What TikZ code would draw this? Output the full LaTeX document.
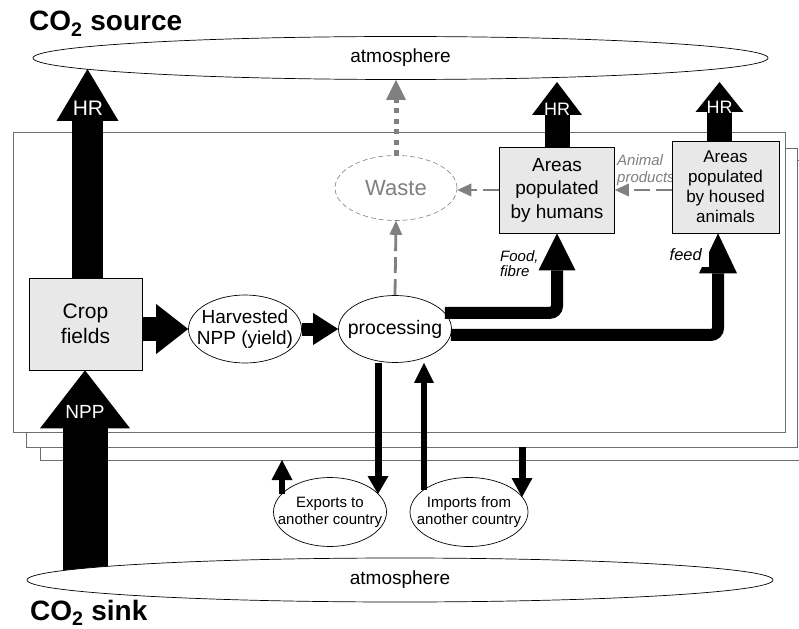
\documentclass[tikz,border=0pt]{standalone}
\usepackage{fontspec}
\setmainfont{Liberation Sans}
\usetikzlibrary{arrows.meta,shapes.geometric,calc}
\definecolor{boxgray}{HTML}{E8E8E8}
\definecolor{framegray}{HTML}{6E6E6E}
\definecolor{flowgray}{HTML}{808080}
\newcommand\fsz[2]{\fontsize{#1}{#2}\selectfont}
\tikzset{
  frame/.style={draw=framegray, line width=0.9pt, fill=white},
  ell/.style={ellipse, draw, fill=white, inner sep=0pt, line width=0.7pt},
  boxnode/.style={rectangle, draw, fill=boxgray, inner sep=0pt, align=center, line width=0.7pt},
  txt/.style={inner sep=0pt, align=center},
  fat/.style n args={3}{line width=#1, -{Triangle[width=#2,length=#3,line width=0pt]}},
  fatr/.style n args={3}{line width=#1, rounded corners=7pt, -{Triangle[width=#2,length=#3,line width=0pt]}},
  gdash/.style={draw=flowgray, line width=2.8pt, dash pattern=on 16pt off 6pt, -{Triangle[width=13pt,length=14pt,line width=0pt]}},
  gdot/.style={draw=flowgray, line width=5pt, dash pattern=on 5pt off 5.5pt, -{Triangle[width=20pt,length=20pt,line width=0pt]}},
  hrlab/.style={text=white, inner sep=0pt},
}
\begin{document}
\begin{tikzpicture}[x=1pt,y=-1pt]
\useasboundingbox (0,0) rectangle (799,628);
% stacked frames
\draw[frame] (40,160) rectangle (815,460);
\draw[frame] (26,148) rectangle (797,447);
\draw[frame] (13,132) rectangle (785,432);

% titles
\node[anchor=base west, inner sep=0pt, font=\bfseries\fsz{28}{32}] (src) at (29,31) {CO\textsubscript{2} source};
\node[anchor=base west, inner sep=0pt, font=\bfseries\fsz{28}{32}] (snk) at (30,620) {CO\textsubscript{2} sink};

% top atmosphere
\node[ell, minimum width=735pt, minimum height=43pt] (topatm) at (400.5,58) {};
\node[txt, font=\fsz{19}{22}] (topatmtxt) at (topatm) {atmosphere};

% nodes
\node[boxnode, minimum width=113pt, minimum height=92pt, font=\fsz{21}{25}] (crop) at (85.5,324) {Crop\\fields};
\node[ell, minimum width=113pt, minimum height=68pt] (harv) at (245,329) {};
\node[txt, font=\fsz{19}{21}] (harvtxt) at (harv) {Harvested\\NPP (yield)};
\node[ell, minimum width=113pt, minimum height=67pt] (proc) at (395,329) {};
\node[txt, font=\fsz{19.5}{22}] (proctxt) at (proc) {processing};
\node[ell, draw=flowgray, dash pattern=on 5pt off 3pt, line width=0.6pt, minimum width=122pt, minimum height=65pt] (waste) at (396,188) {};
\node[txt, text=flowgray, font=\fsz{22}{25}] (wastetxt) at (waste) {Waste};
\node[boxnode, minimum width=115pt, minimum height=86pt, font=\fsz{19}{23.5}] (humans) at (557,190) {Areas\\populated\\by humans};
\node[txt, text=flowgray, align=left, anchor=west, font=\itshape\fsz{15}{17}] (animprod) at (617,170) {Animal\\products};
\node[boxnode, minimum width=107pt, minimum height=92pt, font=\fsz{17}{20}] (animals) at (725.5,187) {Areas\\populated\\by housed\\animals};
\node[ell, minimum width=113pt, minimum height=69pt] (exports) at (330,512) {};
\node[txt, font=\fsz{15}{17}] (exportstxt) at (exports) {Exports to\\another country};
\node[ell, minimum width=118pt, minimum height=69pt] (imports) at (469,512) {};
\node[txt, font=\fsz{15}{17}] (importstxt) at (imports) {Imports from\\another country};

% coordinates
\coordinate (hrtipA) at (87.5,69);
\coordinate (hrtipB) at (557,82);
\coordinate (hrtipC) at (719.5,82);
\coordinate (nppbase) at (85,580);
\coordinate (feedtip) at ([xshift=-7.5pt]animals.south);
\coordinate (exin) at (378,494);
\coordinate (exout) at (282,494);
\coordinate (exouttip) at (282,460);
\coordinate (imout) at (424,490);
\coordinate (iminstart) at (522,447);
\coordinate (imin) at (522,497);

% main flows
\draw[fat={31pt}{62pt}{52pt}] (crop.north -| hrtipA) -- (hrtipA);
\draw[fat={24pt}{50pt}{32pt}] (crop.east |- harv.west) -- (harv.west);
\draw[fat={13pt}{32pt}{25pt}] (harv.east) -- (proc.west);
\draw[fatr={12pt}{37pt}{37pt}] (proc.18) -| (humans.south);
\draw[fatr={12pt}{38pt}{40pt}] (proc.-6) -| (feedtip);
\draw[fat={25pt}{50pt}{33pt}] (humans.north) -- (hrtipB);
\draw[fat={25pt}{48pt}{30pt}] (animals.north -| hrtipC) -- (hrtipC);

% gray flows
\draw[gdash] (proc.north) -- (waste.south);
\draw[gdash] (humans.west) -- (waste.east |- humans.west);
\draw[gdash] (animals.west |- humans.west) -- (humans.east);
\draw[gdot] (waste.north) -- (waste.north |- topatm.south);

% trade flows
\draw[fat={7pt}{21pt}{18pt}] (proc.south -| exin) -- (exin);
\draw[fat={6pt}{21pt}{20pt}] (exout) -- (exouttip);
\draw[fat={6.5pt}{20pt}{20pt}] (imout) -- (proc.south -| imout);
\draw[fat={7pt}{21pt}{19pt}] (iminstart) -- (imin);

% NPP and bottom atmosphere
\draw[fat={45pt}{90pt}{58pt}] (nppbase) -- (crop.south -| nppbase);
\node[ell, minimum width=746pt, minimum height=44pt] (botatm) at (400,580) {};
\node[txt, font=\fsz{19}{22}] (botatmtxt) at (botatm) {atmosphere};

% labels
\node[hrlab, font=\fsz{21}{24}] (hrA) at (88,108) {HR};
\node[hrlab, font=\fsz{18}{21}] (hrB) at (557,109) {HR};
\node[hrlab, font=\fsz{18}{21}] (hrC) at (719.5,107) {HR};
\node[hrlab, font=\fsz{19}{22}] (npp) at (85,412) {NPP};
\node[inner sep=0pt, align=left, anchor=north west, font=\itshape\fsz{15}{15}] (food) at (500,250) {Food,\\fibre};
\node[fill=white, inner sep=7pt, anchor=base east, font=\itshape\fsz{16.5}{19}] (feed) at (709,260) {feed};
\end{tikzpicture}
\end{document}
